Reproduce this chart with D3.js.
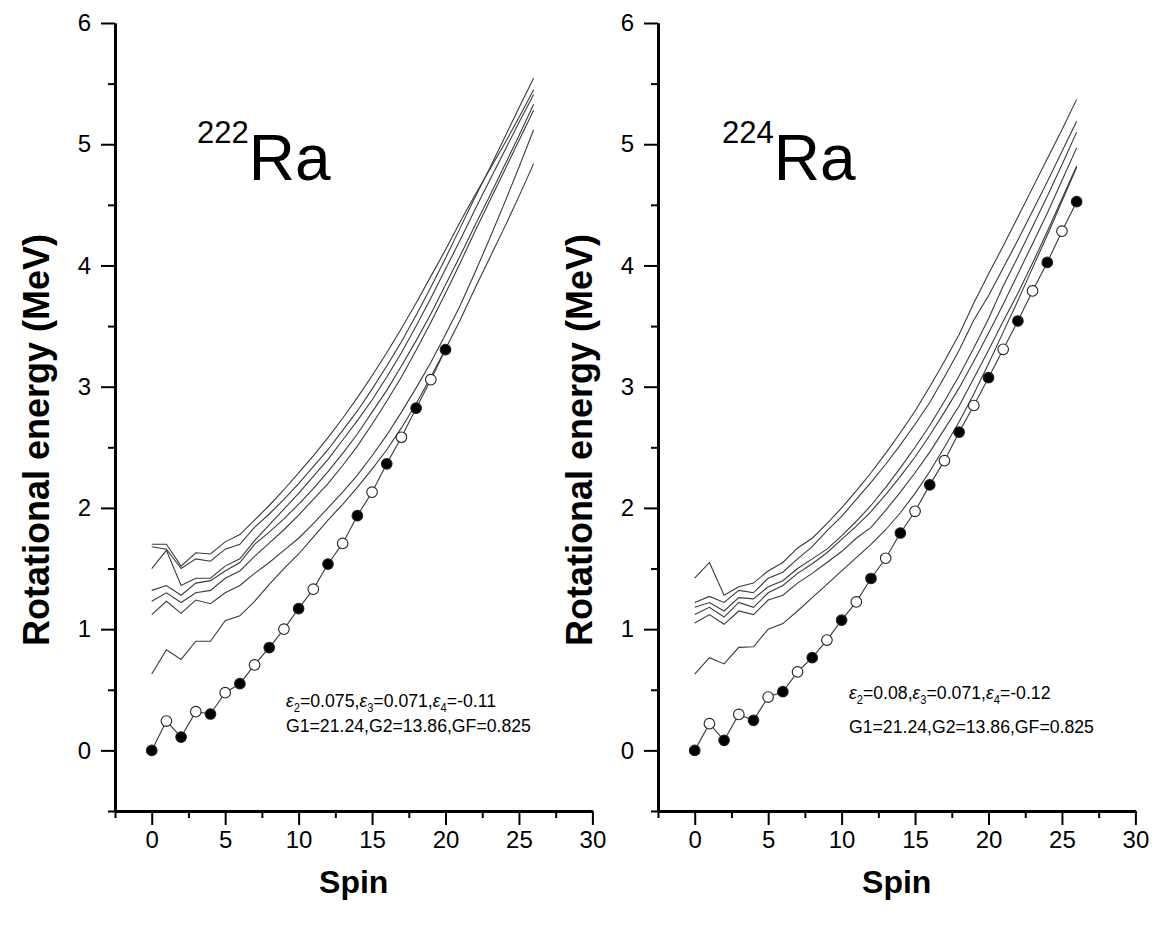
<!DOCTYPE html>
<html>
<head>
<meta charset="utf-8">
<script src="https://cdn.jsdelivr.net/npm/d3@7"></script>
<style>
  body { margin: 0; background: #fff; }
  svg { display: block; font-family: "Liberation Sans", Arial, sans-serif; }
  .axis path, .axis line { stroke: #000; }
  .axis text { font-size: 24px; fill: #000; }
</style>
</head>
<body>
<svg id="chart" width="1157" height="928"></svg>
<script>
// spin values (x categories)
const spins = [0,1,2,3,4,5,6,7,8,9,10,11,12,13,14,15,16,17,18,19,20,21,22,23,24,25,26]

// 222Ra experimental yrast energies (MeV), spin 0..20
const ra222Exp = [0, 0.242, 0.11, 0.319, 0.30, 0.476, 0.55, 0.705, 0.848, 1.0, 1.17,
  1.33, 1.537, 1.707, 1.936, 2.13, 2.364, 2.583, 2.823, 3.058, 3.306]

// 222Ra calculated bands, spin 0..26
const ra222Calc1 = [1.70,1.70,1.52,1.63,1.62,1.72,1.78,1.90,2.02,2.15,2.29,2.43,2.58,2.74,2.91,3.09,3.28,3.48,3.69,3.91,4.13,4.36,4.58,4.79,5.00,5.22,5.45]
const ra222Calc2 = [1.68,1.66,1.50,1.58,1.56,1.66,1.70,1.84,1.95,2.07,2.20,2.34,2.48,2.64,2.80,2.98,3.17,3.37,3.59,3.82,4.06,4.31,4.56,4.80,5.05,5.30,5.545]
const ra222Calc3 = [1.50,1.65,1.36,1.42,1.42,1.52,1.58,1.73,1.86,1.99,2.12,2.26,2.40,2.56,2.72,2.89,3.08,3.28,3.50,3.73,3.97,4.21,4.46,4.70,4.94,5.18,5.41]
const ra222Calc4 = [1.32,1.36,1.28,1.38,1.40,1.48,1.55,1.70,1.80,1.91,2.03,2.16,2.30,2.45,2.61,2.79,2.97,3.17,3.38,3.60,3.84,4.08,4.33,4.57,4.82,5.07,5.33]
const ra222Calc5 = [1.23,1.30,1.22,1.30,1.32,1.42,1.48,1.60,1.71,1.82,1.94,2.07,2.20,2.35,2.51,2.69,2.88,3.08,3.30,3.53,3.77,4.02,4.28,4.53,4.78,5.03,5.28]
const ra222Calc6 = [1.12,1.23,1.13,1.24,1.21,1.30,1.36,1.46,1.55,1.65,1.75,1.87,2.00,2.13,2.27,2.43,2.60,2.79,2.99,3.20,3.43,3.67,3.94,4.22,4.51,4.81,5.12]
const ra222Calc7 = [0.63,0.83,0.75,0.90,0.90,1.07,1.11,1.23,1.37,1.50,1.62,1.76,1.90,2.03,2.17,2.32,2.48,2.66,2.86,3.08,3.31,3.55,3.81,4.06,4.31,4.57,4.84]

// 224Ra experimental yrast energies (MeV), spin 0..26
const ra224Exp = [0, 0.22, 0.083, 0.297, 0.248, 0.44, 0.484, 0.647, 0.765, 0.91, 1.074,
  1.225, 1.418, 1.585, 1.793, 1.972, 2.19, 2.39, 2.625, 2.845, 3.074, 3.308, 3.542,
  3.79, 4.025, 4.283, 4.526]

// 224Ra calculated bands, spin 0..26
const ra224Calc1 = [1.42,1.55,1.28,1.35,1.38,1.48,1.55,1.67,1.75,1.87,2.00,2.14,2.29,2.45,2.62,2.80,3.00,3.21,3.43,3.69,3.93,4.16,4.40,4.64,4.88,5.12,5.37]
const ra224Calc2 = [1.22,1.27,1.22,1.32,1.30,1.42,1.47,1.58,1.68,1.81,1.93,2.07,2.21,2.36,2.52,2.69,2.87,3.08,3.30,3.55,3.75,3.98,4.21,4.45,4.69,4.94,5.19]
const ra224Calc3 = [1.18,1.22,1.15,1.26,1.25,1.35,1.40,1.50,1.58,1.66,1.77,1.89,2.02,2.17,2.33,2.50,2.68,2.88,3.09,3.32,3.56,3.83,4.07,4.32,4.57,4.83,5.10]
const ra224Calc4 = [1.12,1.18,1.10,1.22,1.18,1.30,1.36,1.46,1.54,1.63,1.74,1.85,1.97,2.11,2.26,2.42,2.60,2.79,2.99,3.21,3.44,3.68,3.93,4.18,4.43,4.70,4.97]
const ra224Calc5 = [1.05,1.12,1.04,1.15,1.12,1.24,1.28,1.38,1.46,1.55,1.64,1.75,1.84,1.98,2.13,2.29,2.46,2.65,2.84,3.07,3.30,3.54,3.77,4.02,4.28,4.55,4.82]
const ra224Calc6 = [0.63,0.765,0.713,0.85,0.855,1.0,1.046,1.15,1.26,1.37,1.48,1.59,1.70,1.82,1.96,2.12,2.30,2.50,2.71,2.94,3.19,3.45,3.71,3.98,4.25,4.53,4.81]

const xMajor = [0,5,10,15,20,25,30]
const xMinor = [-2.5,2.5,7.5,12.5,17.5,22.5,27.5]
const yMajor = [0,1,2,3,4,5,6]
const yMinor = [-0.5,0.5,1.5,2.5,3.5,4.5,5.5]

const svg = d3.select("#chart")
svg.append("rect").attr("width", 1157).attr("height", 928).attr("fill", "#fff")

function drawPanel(p) {
  const x = d3.scaleLinear().domain([-2.5, 30]).range([p.left, p.left + 477.4])
  const y = d3.scaleLinear().domain([-0.5, 6]).range([811, 23])
  const g = svg.append("g")

  // calculated bands
  const line = d3.line().x((d, i) => x(spins[i])).y(d => y(d))
  p.calc.forEach(c => {
    g.append("path").attr("d", line(c))
      .attr("fill", "none").attr("stroke", "#3a3a3a").attr("stroke-width", 1.1)
  })

  // experimental
  g.append("path").attr("d", line(p.exp))
    .attr("fill", "none").attr("stroke", "#3a3a3a").attr("stroke-width", 1.1)
  g.selectAll("circle.exp").data(p.exp).enter().append("circle")
    .attr("class", "exp")
    .attr("cx", (d, i) => x(spins[i]))
    .attr("cy", d => y(d))
    .attr("r", 5.3)
    .attr("fill", (d, i) => i % 2 === 0 ? "#000" : "#fff")
    .attr("stroke", "#222").attr("stroke-width", 1.1)

  // axes
  g.append("g").attr("class", "axis")
    .attr("transform", "translate(0," + y(-0.5) + ")")
    .call(d3.axisBottom(x).tickValues(xMajor).tickSize(14).tickSizeOuter(0).tickPadding(6).tickFormat(d3.format("d")))
  g.append("g").attr("class", "axis")
    .attr("transform", "translate(0," + y(-0.5) + ")")
    .call(d3.axisBottom(x).tickValues(xMinor).tickSize(7).tickSizeOuter(0).tickFormat(""))
  g.append("g").attr("class", "axis")
    .attr("transform", "translate(" + x(-2.5) + ",0)")
    .call(d3.axisLeft(y).tickValues(yMajor).tickSize(14).tickSizeOuter(0).tickPadding(10).tickFormat(d3.format("d")))
  g.append("g").attr("class", "axis")
    .attr("transform", "translate(" + x(-2.5) + ",0)")
    .call(d3.axisLeft(y).tickValues(yMinor).tickSize(7).tickSizeOuter(0).tickFormat(""))
  g.selectAll(".axis path.domain").attr("stroke-width", 3)
  g.selectAll(".axis .tick line").attr("stroke-width", 2)

  // axis titles
  g.append("text")
    .attr("x", (x(-2.5) + x(30)) / 2).attr("y", 893)
    .attr("text-anchor", "middle")
    .attr("font-size", 32).attr("font-weight", "bold")
    .text("Spin")
  g.append("text")
    .attr("transform", "translate(" + (x(-2.5) - 66) + ",440) rotate(-90)")
    .attr("text-anchor", "middle")
    .attr("font-size", 36).attr("font-weight", "bold")
    .text("Rotational energy (MeV)")

  // nucleus label
  const lab = g.append("text").attr("x", p.labelX).attr("y", 180)
  lab.append("tspan").attr("font-size", 31).attr("dy", -37).text(p.mass)
  lab.append("tspan").attr("font-size", 64).attr("dy", 37).text("Ra")

  // parameters
  const t1 = g.append("text").attr("font-size", 19)
    .attr("transform", "translate(" + p.noteX + "," + p.note1Y + ") scale(0.93,1)")
  p.eps.forEach((v, i) => {
    t1.append("tspan").attr("font-style", "italic").text("\u03b5")
    t1.append("tspan").attr("font-size", 12).attr("dy", 5).text(i + 2)
    t1.append("tspan").attr("dy", -5).text("=" + v + (i < 2 ? "," : ""))
  })
  g.append("text").attr("font-size", 19)
    .attr("transform", "translate(" + p.noteX + "," + p.note2Y + ") scale(0.93,1)")
    .text(p.gText)
}

drawPanel({
  left: 115, calc: [ra222Calc1, ra222Calc2, ra222Calc3, ra222Calc4, ra222Calc5, ra222Calc6, ra222Calc7],
  exp: ra222Exp, mass: "222", labelX: 197,
  eps: ["0.075", "0.071", "-0.11"], gText: "G1=21.24,G2=13.86,GF=0.825",
  noteX: 286, note1Y: 707, note2Y: 732
})
drawPanel({
  left: 658, calc: [ra224Calc1, ra224Calc2, ra224Calc3, ra224Calc4, ra224Calc5, ra224Calc6],
  exp: ra224Exp, mass: "224", labelX: 722,
  eps: ["0.08", "0.071", "-0.12"], gText: "G1=21.24,G2=13.86,GF=0.825",
  noteX: 849, note1Y: 699, note2Y: 733
})
</script>
</body>
</html>
